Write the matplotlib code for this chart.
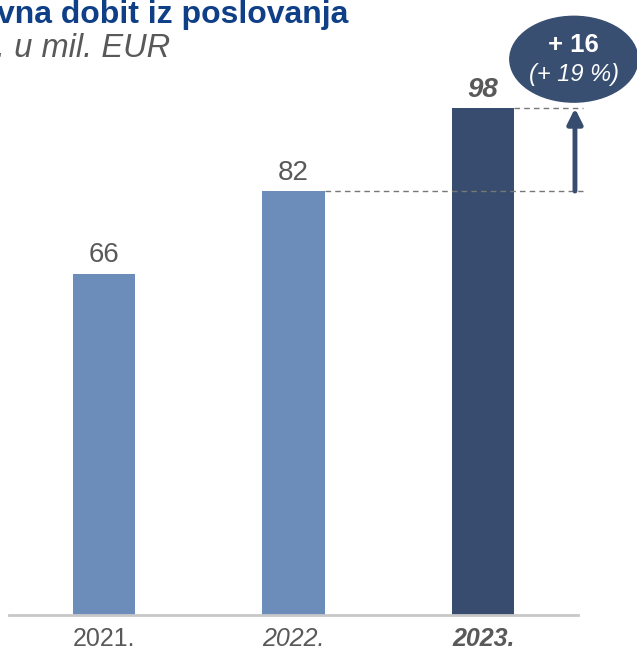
import matplotlib
matplotlib.use("Agg")
import matplotlib.pyplot as plt
from matplotlib.patches import Ellipse

plt.rcParams['font.family'] = ['Liberation Sans', 'DejaVu Sans']

years = ['2021.', '2022.', '2023.']
profit = [66, 82, 98]
delta_label = '+ 16'
delta_pct = '(+ 19 %)'

bar_colors = ['#6C8DBA', '#6C8DBA', '#374C6E']
gray = '#595959'

W, H = 637, 654
fig = plt.figure(figsize=(W / 100, H / 100), dpi=100)
# axes: x from 9px to 578px, baseline at 615px from top, 5.17 px per unit
ax_left, ax_right = 9, 578
base = 615
ymax = 115
ax_h = ymax * 5.17
ax = fig.add_axes([ax_left / W, (H - base) / H, (ax_right - ax_left) / W, ax_h / H])
ax.set_xlim(-0.5, 2.5)
ax.set_ylim(0, ymax)

x = range(len(years))
ax.bar(x, profit, width=0.33, color=bar_colors, zorder=2)

for s in ['top', 'right', 'left']:
    ax.spines[s].set_visible(False)
ax.spines['bottom'].set_color('#C8C8C8')
ax.spines['bottom'].set_linewidth(2)
ax.set_yticks([])
ax.set_xticks(list(x))
ax.set_xticklabels(years, fontsize=18, color=gray)
ax.tick_params(axis='x', length=0, pad=9)
labels = ax.get_xticklabels()
labels[1].set_style('italic')
labels[2].set_style('italic')
labels[2].set_weight('bold')

# value labels
for i, v in enumerate(profit):
    style = 'italic' if i == 2 else 'normal'
    weight = 'bold' if i == 2 else 'normal'
    ax.annotate(str(v), (i, v), xytext=(0, 4), textcoords='offset points',
                ha='center', va='bottom', fontsize=20, color=gray,
                style=style, fontweight=weight)

# dashed guides and arrow
ax_x = 2.484
ax.plot([1 + 0.165, 2.526], [profit[1], profit[1]], ls=(0, (4, 3)), color='#777777',
        lw=1, clip_on=False)
ax.plot([2 + 0.165, 2.526], [profit[2], profit[2]], ls=(0, (4, 3)), color='#777777',
        lw=1, clip_on=False)
ax.annotate('', xy=(ax_x, profit[2]), xytext=(ax_x, profit[1]),
            arrowprops=dict(arrowstyle='-|>,head_width=0.45,head_length=0.9',
                            color='#374C6E', lw=3.5, shrinkA=0, shrinkB=0),
            annotation_clip=False)

# ellipse with delta
ell = Ellipse((2.478, 107.5), 0.675, 16.6, color='#384F72', clip_on=False, zorder=3)
ax.add_patch(ell)
ax.text(2.478, 110.3, delta_label, ha='center', va='center', fontsize=18.5,
        fontweight='bold', color='white', zorder=4)
ax.text(2.478, 104.5, delta_pct, ha='center', va='center', fontsize=17,
        style='italic', color='white', zorder=4)

# title and subtitle (cut at the left edge like the reference)
fig.text(-0.004, 1 - 23 / H, 'vna dobit iz poslovanja', fontsize=23, fontweight='bold',
         color='#0F3F87', ha='left', va='baseline')
fig.text(-0.007, 1 - 57 / H, '. u mil. EUR', fontsize=23.5, style='italic',
         color=gray, ha='left', va='baseline')

fig.savefig('out.png', dpi=100)
